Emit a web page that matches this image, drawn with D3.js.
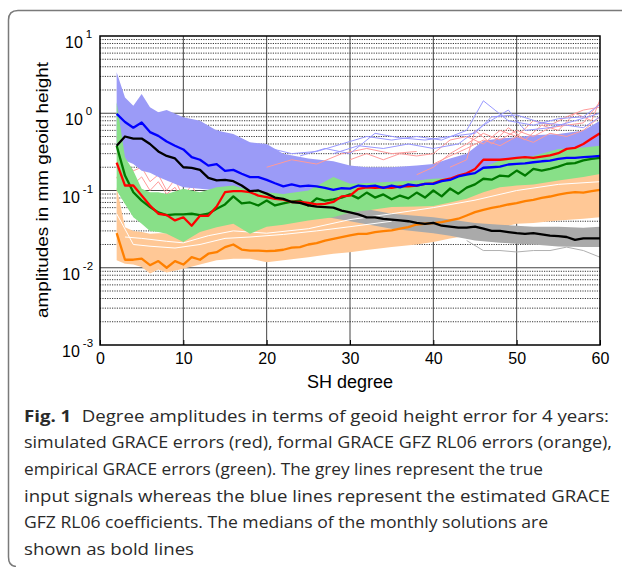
<!DOCTYPE html>
<html>
<head>
<meta charset="utf-8">
<script src="https://cdn.jsdelivr.net/npm/d3@7"></script>
<style>
  body { margin: 0; background: #fff; }
  .tick-label { font-family: "Liberation Sans", Arial, sans-serif; fill: #000; }
  .axis-label { font-family: "Liberation Sans", Arial, sans-serif; fill: #000; }
  .caption { font-family: "Open Sans", "Noto Sans", sans-serif; font-size: 16px; fill: #2a2a2a; }
</style>
</head>
<body>
<div id="chart"></div>
<script>
// 1: DATA
const degrees = [2, 3, 4, 5, 6, 7, 8, 9, 10, 11, 12, 13, 14, 15, 16, 17, 18, 19, 20, 21, 22, 23, 24, 25, 26, 27, 28, 29, 30,
  31, 32, 33, 34, 35, 36, 37, 38, 39, 40, 41, 42, 43, 44, 45, 46, 47, 48, 49, 50, 51, 52, 53, 54, 55, 56, 57, 58, 59, 60];

// medians (bold lines)
const blueMedian = [0.98, 0.77, 0.65, 0.76, 0.57, 0.51, 0.43, 0.38, 0.34, 0.27, 0.25, 0.21, 0.22, 0.18,
  0.185, 0.165, 0.149, 0.149, 0.137, 0.124, 0.113, 0.12, 0.113, 0.116, 0.113, 0.108, 0.102, 0.107, 0.106,
  0.116, 0.113, 0.116, 0.108, 0.116, 0.110, 0.12, 0.116, 0.122, 0.122, 0.132, 0.137, 0.152, 0.161, 0.168,
  0.197, 0.200, 0.204, 0.217, 0.221, 0.225, 0.232, 0.239, 0.244, 0.257, 0.265, 0.265, 0.270, 0.275, 0.281];
const blackMedian = [0.38, 0.50, 0.47, 0.47, 0.40, 0.32, 0.28, 0.26, 0.20, 0.196, 0.185, 0.146, 0.135, 0.137,
  0.132, 0.116, 0.098, 0.100, 0.091, 0.081, 0.078, 0.071, 0.069, 0.064, 0.062, 0.061, 0.060, 0.055, 0.052,
  0.049, 0.045, 0.045, 0.043, 0.042, 0.041, 0.040, 0.038, 0.037, 0.038, 0.035, 0.034, 0.033, 0.033, 0.034,
  0.032, 0.030, 0.030, 0.029, 0.028, 0.0275, 0.028, 0.027, 0.026, 0.0256, 0.025, 0.023, 0.024, 0.024, 0.024];
const redMedian = [0.23, 0.116, 0.116, 0.086, 0.064, 0.050, 0.048, 0.041, 0.045, 0.035, 0.047, 0.047, 0.062, 0.095,
  0.098, 0.098, 0.095, 0.086, 0.082, 0.078, 0.076, 0.071, 0.071, 0.069, 0.066, 0.067, 0.071, 0.084, 0.086,
  0.105, 0.110, 0.108, 0.110, 0.108, 0.113, 0.113, 0.116, 0.122, 0.124, 0.135, 0.142, 0.156, 0.167, 0.19,
  0.25, 0.25, 0.25, 0.257, 0.265, 0.27, 0.265, 0.275, 0.284, 0.304, 0.346, 0.356, 0.40, 0.47, 0.55];
const greenMedian = [0.38, 0.156, 0.095, 0.074, 0.061, 0.052, 0.048, 0.049, 0.049, 0.050, 0.048, 0.050, 0.058, 0.066,
  0.084, 0.068, 0.070, 0.064, 0.074, 0.064, 0.068, 0.072, 0.074, 0.064, 0.079, 0.074, 0.077, 0.081, 0.089,
  0.079, 0.094, 0.081, 0.089, 0.077, 0.086, 0.079, 0.094, 0.081, 0.100, 0.084, 0.106, 0.091, 0.109, 0.120,
  0.142, 0.138, 0.156, 0.152, 0.181, 0.156, 0.191, 0.181, 0.191, 0.204, 0.222, 0.226, 0.245, 0.257, 0.265];
const orangeMedian = [0.028, 0.0127, 0.0127, 0.0131, 0.0108, 0.0122, 0.0100, 0.0122, 0.0110, 0.0137, 0.0127, 0.0152, 0.0159, 0.0185,
  0.0200, 0.0172, 0.0167, 0.0167, 0.0164, 0.0166, 0.0171, 0.0182, 0.0185, 0.0200, 0.0208, 0.0225, 0.0237, 0.0249, 0.0262,
  0.0275, 0.0275, 0.0289, 0.0297, 0.0304, 0.0320, 0.0335, 0.0363, 0.0371, 0.0378, 0.0389, 0.0409, 0.0431, 0.0475, 0.0524,
  0.0563, 0.0597, 0.0621, 0.0659, 0.0685, 0.0728, 0.0758, 0.0805, 0.0836, 0.0887, 0.0923, 0.0951, 0.0940, 0.098, 0.102];

// spread of the monthly solutions (thin lines), given as envelopes
const bandDeg = [2, 3, 4, 5, 6, 7, 8, 10, 12, 14, 16, 18, 20, 22, 25, 28, 30, 32, 35, 38, 40, 42, 44, 46, 48, 50, 52, 55, 58, 60];
const blueUpper = [3.4, 1.6, 1.25, 1.78, 1.2, 1.03, 1.1, 0.89, 0.8, 0.6, 0.54, 0.42, 0.40, 0.30, 0.26, 0.24, 0.21, 0.2, 0.2, 0.21,
  0.22, 0.26, 0.3, 0.44, 0.47, 0.49, 0.52, 0.54, 0.6, 0.8];
const blueLower = [0.36, 0.245, 0.22, 0.18, 0.17, 0.15, 0.135, 0.11, 0.105, 0.1, 0.1, 0.09, 0.075, 0.068, 0.075, 0.072, 0.085, 0.088,
  0.09, 0.095, 0.1, 0.108, 0.115, 0.13, 0.15, 0.16, 0.165, 0.18, 0.19, 0.2];
const greenUpper = [1.39, 0.27, 0.18, 0.105, 0.095, 0.095, 0.09, 0.105, 0.095, 0.11, 0.116, 0.1, 0.095, 0.09, 0.1, 0.149, 0.122, 0.125,
  0.13, 0.135, 0.142, 0.145, 0.16, 0.2, 0.245, 0.26, 0.28, 0.345, 0.36, 0.38];
const greenLower = [0.1, 0.067, 0.045, 0.037, 0.03, 0.029, 0.0275, 0.0215, 0.029, 0.0335, 0.037, 0.0275, 0.034, 0.036, 0.041, 0.045,
  0.052, 0.055, 0.061, 0.062, 0.063, 0.07, 0.078, 0.095, 0.11, 0.116, 0.12, 0.135, 0.15, 0.164];
const orangeUpper = [0.11, 0.0335, 0.03, 0.029, 0.0275, 0.028, 0.028, 0.0275, 0.0335, 0.037, 0.045, 0.037, 0.037, 0.04, 0.043, 0.05,
  0.061, 0.063, 0.067, 0.075, 0.082, 0.095, 0.11, 0.125, 0.14, 0.149, 0.155, 0.164, 0.168, 0.172];
const orangeLower = [0.0125, 0.0113, 0.011, 0.0102, 0.0084, 0.0095, 0.0087, 0.0097, 0.011, 0.0125, 0.0131, 0.0131, 0.0118, 0.0125,
  0.0137, 0.0152, 0.0159, 0.017, 0.0185, 0.02, 0.0215, 0.024, 0.026, 0.029, 0.033, 0.037, 0.038, 0.041, 0.043, 0.045];

const greyDeg = [20, 25, 30, 35, 40, 42, 45, 48, 50, 52, 55, 58, 60];
const greyUpper = [0.1, 0.08, 0.063, 0.05, 0.045, 0.042, 0.038, 0.036, 0.035, 0.034, 0.034, 0.033, 0.034];
const greyLower = [0.07, 0.05, 0.04, 0.032, 0.028, 0.026, 0.0225, 0.021, 0.0205, 0.02, 0.0188, 0.0185, 0.0185];

// single thin lines that stand out of the envelopes (drawn before the blue band)
const backLines = [
  { color: "#ffffff", deg: [3, 5, 8, 10, 13, 16, 20, 25, 30, 35, 40, 45, 50, 55, 60], val: [0.025, 0.024, 0.022, 0.021, 0.026, 0.03, 0.028, 0.032, 0.042, 0.05, 0.06, 0.075, 0.1, 0.12, 0.13] },
  { color: "#ffffff", deg: [2, 4, 6, 9, 12, 15, 18, 22, 26, 30, 35], val: [0.05, 0.02, 0.019, 0.018, 0.02, 0.024, 0.025, 0.027, 0.03, 0.034, 0.04] },
  { color: "#b0b0b0", deg: [4, 5, 6, 7, 8, 9, 10, 11, 12, 13], val: [0.3, 0.26, 0.3, 0.2, 0.25, 0.17, 0.22, 0.16, 0.17, 0.13] },
  { color: "#b0b0b0", deg: [5, 6, 7, 8, 9, 10, 11, 12], val: [0.22, 0.18, 0.24, 0.15, 0.2, 0.14, 0.16, 0.12] },
  { color: "#b0b0b0", deg: [44, 46, 48, 50, 52, 54, 56, 58, 60], val: [0.0225, 0.0167, 0.0167, 0.016, 0.0167, 0.0167, 0.0185, 0.0167, 0.0137] },
  { color: "#ff9a9a", deg: [2, 3, 4, 5, 6, 7, 8, 9, 10, 11, 12, 13], val: [0.5, 0.25, 0.18, 0.2, 0.13, 0.16, 0.1, 0.14, 0.08, 0.12, 0.07, 0.09] },
  { color: "#ff9a9a", deg: [2, 3, 4, 5, 6, 7, 8, 9, 10, 11, 12, 13, 14, 15], val: [0.3, 0.2, 0.12, 0.15, 0.1, 0.13, 0.09, 0.11, 0.07, 0.09, 0.06, 0.075, 0.1, 0.12] },
  { color: "#ff9a9a", deg: [2, 3, 4, 5, 6, 7, 8, 9, 10, 11, 12, 13, 14, 15], val: [0.15, 0.08, 0.06, 0.05, 0.035, 0.04, 0.03, 0.035, 0.028, 0.032, 0.03, 0.04, 0.035, 0.045] }
];
// thin lines drawn over the blue band
const frontLines = [
  { color: "#ff9a9a", deg: [20, 23, 26, 29, 32, 35, 38], val: [0.2, 0.25, 0.22, 0.3, 0.35, 0.3, 0.32] },
  { color: "#ff9a9a", deg: [38, 40, 42, 44, 46, 48, 50, 52, 54, 56, 58, 60], val: [0.16, 0.2, 0.3, 0.4, 0.55, 0.45, 0.6, 0.5, 0.65, 0.7, 0.75, 1.4] },
  { color: "#ff9a9a", deg: [30, 32, 34, 36, 38, 40, 42, 44, 46, 48, 50, 52, 54, 56, 58, 60], val: [0.25, 0.3, 0.25, 0.3, 0.28, 0.3, 0.45, 0.5, 0.4, 0.6, 0.5, 0.8, 0.7, 0.9, 1.1, 1.2] },
  { color: "#ff9a9a", deg: [40, 42, 44, 46, 48, 50, 52, 54, 56, 58, 60], val: [0.22, 0.28, 0.35, 0.45, 0.38, 0.5, 0.42, 0.55, 0.5, 0.6, 0.9] },
  { color: "#ff9a9a", deg: [42, 44, 45, 47, 49, 51, 53, 55, 57, 59, 60], val: [0.2, 0.25, 0.6, 0.4, 0.65, 0.45, 0.7, 0.6, 1.0, 0.8, 1.5] },
  { color: "#9999ff", deg: [14, 17, 20, 23, 26, 29, 32, 35, 38, 41, 44, 46, 49, 52, 55, 58, 60], val: [0.6, 0.42, 0.36, 0.3, 0.32, 0.4, 0.5, 0.45, 0.5, 0.45, 0.6, 1.45, 0.8, 0.7, 0.85, 0.9, 1.3] },
  { color: "#9999ff", deg: [24, 27, 30, 33, 36, 39, 42, 45, 47, 50, 53, 56, 58, 60], val: [0.28, 0.35, 0.3, 0.55, 0.48, 0.45, 0.5, 0.55, 0.9, 0.95, 0.75, 0.7, 0.65, 0.9] },
  { color: "#9999ff", deg: [28, 31, 34, 37, 40, 43, 46, 49, 51, 54, 57, 60], val: [0.3, 0.38, 0.35, 0.4, 0.35, 0.4, 0.7, 1.1, 0.6, 0.65, 0.8, 1.0] }
];

const xTicks = [0, 10, 20, 30, 40, 50, 60];
const yExponents = [-3, -2, -1, 0, 1];
const captionLines = [
  "Degree amplitudes in terms of geoid height error for 4 years:",
  "simulated GRACE errors (red), formal GRACE GFZ RL06 errors (orange),",
  "empirical GRACE errors (green). The grey lines represent the true",
  "input signals whereas the blue lines represent the estimated GRACE",
  "GFZ RL06 coefficients. The medians of the monthly solutions are",
  "shown as bold lines"
];

// 2: SVG + SCALES
const W = 622, H = 567;
const svg = d3.select("#chart").append("svg").attr("width", W).attr("height", H);

const x = d3.scaleLinear().domain([0, 60]).range([100, 600]);
const y = d3.scaleLog().domain([1e-3, 10]).range([345, 36]);

// figure frame (rounded box, open to the right)
svg.append("path")
  .attr("d", `M${W},10.5 L18,10.5 Q8.5,10.5 8.5,20 L8.5,557 Q8.5,566 16,566.5`)
  .attr("fill", "none").attr("stroke", "#7a7a7a").attr("stroke-width", 1.5);

// 3: GRID (under the data)
const grid = svg.append("g");
xTicks.slice(1, -1).forEach(t => {
  grid.append("line").attr("x1", x(t)).attr("x2", x(t)).attr("y1", 36).attr("y2", 345)
    .attr("stroke", "#444").attr("stroke-width", 1);
});
yExponents.slice(0, -1).forEach(e => {
  const base = Math.pow(10, e);
  for (let k = 2; k <= 9; k++) {
    grid.append("line").attr("x1", 100).attr("x2", 600).attr("y1", y(k * base)).attr("y2", y(k * base))
      .attr("stroke", "#222").attr("stroke-width", 0.9).attr("stroke-dasharray", "1.2,1.2");
  }
  if (e > -3) {
    grid.append("line").attr("x1", 100).attr("x2", 600).attr("y1", y(base)).attr("y2", y(base))
      .attr("stroke", "#444").attr("stroke-width", 1.2);
  }
});

// 4: DATA MARKS
const plot = svg.append("g");
const band = (deg, lo, hi) => d3.area()
  .x((d, i) => x(deg[i])).y0((d, i) => y(lo[i])).y1((d, i) => y(hi[i]))(deg);
const line = d3.line().x(d => x(d[0])).y(d => y(d[1]));
const drawThin = list => list.forEach(t => {
  plot.append("path").attr("d", line(t.deg.map((d, i) => [d, t.val[i]])))
    .attr("fill", "none").attr("stroke", t.color).attr("stroke-width", 1);
});

plot.append("path").attr("d", band(bandDeg, orangeLower, orangeUpper)).attr("fill", "#ffc896");
plot.append("path").attr("d", band(greyDeg, greyLower, greyUpper)).attr("fill", "#aaaaaa");
drawThin(backLines);
plot.append("path").attr("d", band(bandDeg, blueLower, blueUpper)).attr("fill", "#9b9bf7");
drawThin(frontLines);
plot.append("path").attr("d", band(bandDeg, greenLower, greenUpper)).attr("fill", "#88e088");

const medians = [
  { vals: orangeMedian, color: "#ff8000" },
  { vals: greenMedian, color: "#007a00" },
  { vals: redMedian, color: "#ff0000" },
  { vals: blackMedian, color: "#000000" },
  { vals: blueMedian, color: "#0000ff" }
];
medians.forEach(m => {
  plot.append("path").attr("d", line(degrees.map((d, i) => [d, m.vals[i]])))
    .attr("fill", "none").attr("stroke", m.color).attr("stroke-width", 2.3).attr("stroke-linejoin", "round");
});

// 5: AXES FRAME + TICK LABELS
svg.append("rect").attr("x", 100).attr("y", 36).attr("width", 500).attr("height", 309)
  .attr("fill", "none").attr("stroke", "#000").attr("stroke-width", 1.5);

svg.append("g").attr("transform", "translate(0,345)")
  .call(d3.axisBottom(x).tickValues(xTicks).tickSize(-5).tickPadding(8))
  .call(g => g.select(".domain").remove())
  .call(g => g.selectAll("text").attr("class", "tick-label").attr("font-size", 16).attr("dy", "0.71em"));

yExponents.forEach(e => {
  const t = svg.append("text").attr("class", "tick-label")
    .attr("x", e < 0 ? 62 : 65).attr("y", y(Math.pow(10, e)) + 12);
  t.append("tspan").attr("font-size", 16).text("10");
  t.append("tspan").attr("font-size", 11.5).attr("dx", 3).attr("dy", -10).text(e);
});

// 6: LABELS
svg.append("text").attr("class", "axis-label")
  .attr("x", 350).attr("y", 388).attr("text-anchor", "middle").attr("font-size", 18)
  .text("SH degree");
svg.append("text").attr("class", "axis-label")
  .attr("transform", "translate(48,190) rotate(-90)").attr("text-anchor", "middle")
  .attr("font-size", 17).attr("textLength", 256).attr("lengthAdjust", "spacingAndGlyphs")
  .text("amplitudes in mm geoid height");

// caption
const capW = [585, 588, 519, 586, 524, 170];
captionLines.forEach((txt, i) => {
  const t = svg.append("text").attr("class", "caption")
    .attr("x", 24).attr("y", 421.7 + i * 26.65)
    .attr("textLength", capW[i]).attr("lengthAdjust", "spacingAndGlyphs");
  if (i === 0) {
    t.append("tspan").attr("font-weight", "bold").text("Fig. 1");
    t.append("tspan").attr("dx", 9).text(txt);
  } else {
    t.text(txt);
  }
});
</script>
</body>
</html>
